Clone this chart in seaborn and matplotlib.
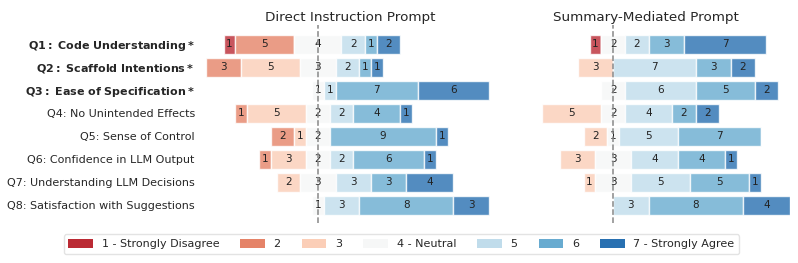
import numpy as np
import pandas as pd
import matplotlib
matplotlib.use("Agg")
import matplotlib.pyplot as plt
import seaborn as sns
from matplotlib.patches import Patch

questions = [
    r"$\bf{Q1:\ Code\ Understanding*}$",
    r"$\bf{Q2:\ Scaffold\ Intentions*}$",
    r"$\bf{Q3:\ Ease\ of\ Specification*}$",
    "Q4: No Unintended Effects",
    "Q5: Sense of Control",
    "Q6: Confidence in LLM Output",
    "Q7: Understanding LLM Decisions",
    "Q8: Satisfaction with Suggestions",
]
levels = ["1 - Strongly Disagree", "2", "3", "4 - Neutral", "5", "6", "7 - Strongly Agree"]

# counts per question for levels 1..7
direct_counts = [
    [1, 5, 0, 4, 2, 1, 2],
    [0, 3, 5, 3, 2, 1, 1],
    [0, 0, 0, 1, 1, 7, 6],
    [0, 1, 5, 2, 2, 4, 1],
    [0, 2, 1, 2, 0, 9, 1],
    [0, 1, 3, 2, 2, 6, 1],
    [0, 0, 2, 3, 3, 3, 4],
    [0, 0, 0, 1, 3, 8, 3],
]
summary_counts = [
    [1, 0, 0, 2, 2, 3, 7],
    [0, 0, 3, 0, 7, 3, 2],
    [0, 0, 0, 2, 6, 5, 2],
    [0, 0, 5, 2, 4, 2, 2],
    [0, 0, 2, 1, 5, 7, 0],
    [0, 0, 3, 3, 4, 4, 1],
    [0, 0, 1, 3, 5, 5, 1],
    [0, 0, 0, 0, 3, 8, 4],
]
panel_titles = ["Direct Instruction Prompt", "Summary-Mediated Prompt"]

sns.set_theme(style="white")
plt.rcParams["font.family"] = ["DejaVu Sans"]
palette = sns.color_palette("RdBu", 7)

fig = plt.figure(figsize=(7.98, 2.63), dpi=100)
axL = fig.add_axes([0.258, 0.152, 0.362, 0.753])
axR = fig.add_axes([0.628, 0.152, 0.362, 0.753], sharex=axL, sharey=axL)


def draw(ax, counts, title):
    df = pd.DataFrame(counts, columns=levels)
    arr = df.to_numpy(dtype=float)
    neg_start = -(arr[:, :3].sum(axis=1) + arr[:, 3] / 2)
    lefts = neg_start.copy()
    ypos = np.arange(len(df))
    for j, lev in enumerate(levels):
        w = arr[:, j]
        ax.barh(ypos, w, left=lefts, height=0.82, color=palette[j], alpha=0.8,
                edgecolor="white", linewidth=1.0)
        for i in range(len(df)):
            if w[i] > 0:
                ax.text(lefts[i] + w[i] / 2, ypos[i], f"{int(w[i])}", ha="center",
                        va="center", fontsize=7.5, color="#222222")
        lefts = lefts + w
    ax.axvline(0, color="#888888", linestyle="--", linewidth=1.1, zorder=5)
    ax.set_title(title, fontsize=9.7, pad=3)
    for s in ax.spines.values():
        s.set_visible(False)
    ax.set_xticks([])
    ax.tick_params(axis="y", length=0, pad=8)


draw(axL, direct_counts, panel_titles[0])
draw(axR, summary_counts, panel_titles[1])
axL.set_xlim(-9.5, 15.0)
axL.set_ylim(7.78, -0.83)
axL.set_yticks(np.arange(len(questions)))
axL.set_yticklabels(questions, fontsize=8)
axR.tick_params(axis="y", labelleft=False)

handles = [Patch(facecolor=palette[j], edgecolor="none", label=levels[j]) for j in range(7)]
fig.legend(handles=handles, loc="center", bbox_to_anchor=(0.503, 0.072), ncol=7,
           fontsize=8, frameon=True, edgecolor="#dddddd", columnspacing=1.9,
           handlelength=2.2, handleheight=0.9)

fig.savefig("out.png", dpi=100)
